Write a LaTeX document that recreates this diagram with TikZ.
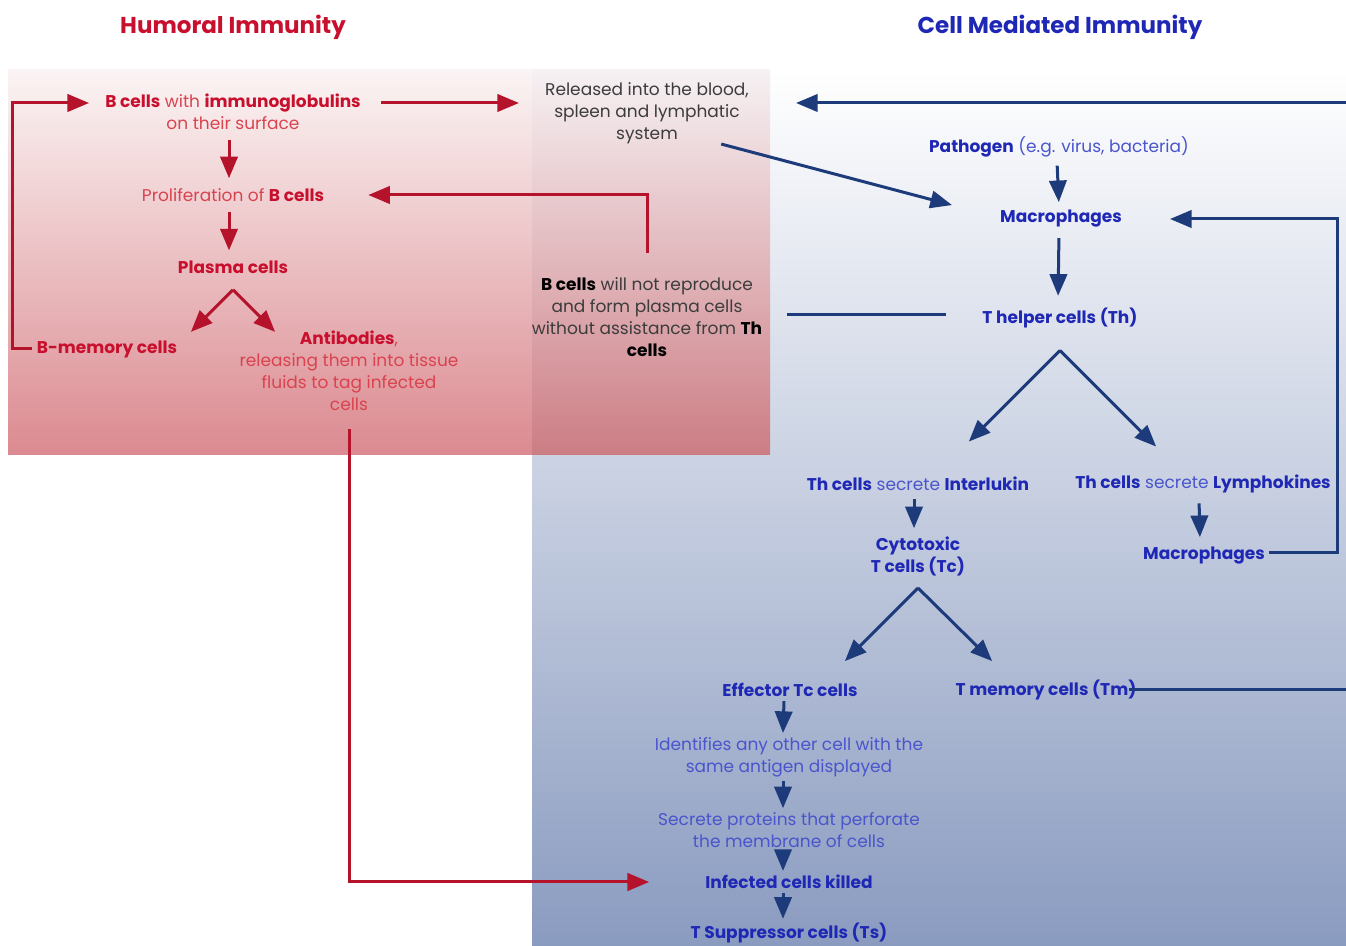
\documentclass[tikz,border=0pt]{standalone}
\usepackage{fontspec}
\setmainfont{Poppins}
\usetikzlibrary{arrows, calc, positioning}

\definecolor{humred}{HTML}{C8102E}
\definecolor{humredlt}{HTML}{D9434F}
\definecolor{arrred}{HTML}{B5122B}
\definecolor{cmiblue}{HTML}{1F28B4}
\definecolor{cmibluelt}{HTML}{4A55CC}
\definecolor{arrblue}{HTML}{1D3B7A}
\definecolor{txtgray}{HTML}{3C3C3C}
\definecolor{bluemid}{HTML}{DCE1EA}
\definecolor{bluebot}{HTML}{8A9BC0}
\definecolor{redtop}{HTML}{FBF4F4}
\definecolor{redmid}{HTML}{EDCBCD}
\definecolor{redbot}{HTML}{DB8A90}
\definecolor{mixtop}{HTML}{F6F1F3}
\definecolor{mixmid}{HTML}{E3C3C6}
\definecolor{mixbot}{HTML}{CC7D84}

\newcommand{\redbf}[1]{{\bfseries\color{humred}#1}}
\newcommand{\bluebf}[1]{{\bfseries\color{cmiblue}#1}}

\begin{document}
\begin{tikzpicture}[>=triangle 45, x=0.5pt, y=-0.5pt,
    redtxt/.style={text=humredlt, align=center, inner sep=2pt, font=\fontsize{8.5}{11}\selectfont},
    bluetxt/.style={text=cmibluelt, align=center, inner sep=2pt, font=\fontsize{8.5}{11}\selectfont},
    graytxt/.style={text=txtgray, align=center, inner sep=2pt, font=\fontsize{8.5}{11}\selectfont},
    heading/.style={font=\fontsize{11.5}{13}\selectfont\bfseries},
    redarr/.style={->, draw=arrred, line width=1.5pt},
    bluearr/.style={->, draw=arrblue, line width=1.5pt},
    blueln/.style={draw=arrblue, line width=1.5pt}]
    \useasboundingbox (0,0) rectangle (1346,946);

    % Hintergrund
    \shade[top color=white, middle color=bluemid, bottom color=bluebot] (532,70) rectangle (1346,946);
    \shade[top color=redtop, middle color=redmid, bottom color=redbot] (8,70) rectangle (532,455);
    \shade[top color=mixtop, middle color=mixmid, bottom color=mixbot] (532,70) rectangle (770,455);

    % Titel
    \node[heading, text=humred] (humtitle) at (233,27) {Humoral Immunity};
    \node[heading, text=cmiblue] (cmititle) at (1060,27) {Cell Mediated Immunity};

    % Humorale Seite
    \node[redtxt] (bimm) at (233,112) {\redbf{B cells} with \redbf{immunoglobulins}\\on their surface};
    \node[redtxt] (prolif) at (233,195) {Proliferation of \redbf{B cells}};
    \node[redtxt] (plasma) at (233,267) {\redbf{Plasma cells}};
    \node[redtxt] (bmem) at (107,349) {\redbf{B-memory cells}};
    \node[redtxt] (antib) at (349,371) {\redbf{Antibodies},\\releasing them into tissue\\fluids to tag infected\\cells};
    \node[graytxt] (released) at (647,113) {Released into the blood,\\spleen and lymphatic\\system};
    \node[graytxt] (bnot) at (647,317) {\textbf{\color{black}B cells} will not reproduce\\and form plasma cells\\without assistance from \textbf{\color{black}Th}\\\textbf{\color{black}cells}};

    % Zellvermittelte Seite
    \node[bluetxt] (pathogen) at (1059,147) {\bluebf{Pathogen} (e.g. virus, bacteria)};
    \node[bluetxt] (macro1) at (1061,219) {\bluebf{Macrophages}};
    \node[bluetxt] (thelper) at (1060,318) {\bluebf{T helper cells (Th)}};
    \node[bluetxt] (thint) at (918,484) {\bluebf{Th cells} secrete \bluebf{Interlukin}};
    \node[bluetxt] (thlym) at (1203,484) {\bluebf{Th cells} secrete \bluebf{Lymphokines}};
    \node[bluetxt] (cyto) at (918,556) {\bluebf{Cytotoxic}\\\bluebf{T cells (Tc)}};
    \node[bluetxt] (macro2) at (1204,556) {\bluebf{Macrophages}};
    \node[bluetxt] (effector) at (790,690) {\bluebf{Effector Tc cells}};
    \node[bluetxt] (tmem) at (1046,690) {\bluebf{T memory cells (Tm)}};
    \node[bluetxt] (ident) at (789,757) {Identifies any other cell with the\\same antigen displayed};
    \node[bluetxt] (secrete) at (789,830) {Secrete proteins that perforate\\the membrane of cells};
    \node[bluetxt] (killed) at (789,882) {\bluebf{Infected cells killed}};
    \node[bluetxt] (tsup) at (789,933) {\bluebf{T Suppressor cells (Ts)}};

    % Hilfspunkte
    \coordinate (bimmL) at ([yshift=4.5pt,xshift=-6pt]bimm.west);
    \coordinate (bimmR) at ([yshift=4.5pt]bimm.east);
    \coordinate (plasmaV) at ([yshift=-6pt]plasma.south);
    \coordinate (thV) at ([yshift=-9pt]thelper.south);
    \coordinate (tcV) at ([yshift=-4pt]cyto.south);
    \coordinate (edgeTop) at (1346,103);
    \coordinate (edgeMid) at (1346,689);

    % rote Pfeile
    \draw[redarr] (bmem.west) -- ++(-20,0) |- (bimmL);
    \draw[redarr, shorten <=8pt, shorten >=11pt] (bimmR) -- (bimmR -| released.west);
    \draw[redarr, shorten <=3pt, shorten >=3pt] ([xshift=-2pt]bimm.south) -- ([xshift=-2pt]prolif.north);
    \draw[redarr, shorten <=3pt, shorten >=3pt] ([xshift=-2pt]prolif.south) -- ([xshift=-2pt]plasma.north);
    \draw[redarr] (plasmaV) -- ++(-42,42);
    \draw[redarr] (plasmaV) -- ++(42,42);
    \draw[redarr, shorten >=20pt] ([yshift=10pt]bnot.north) |- (prolif.east);
    \draw[redarr, shorten <=7pt, shorten >=26pt] (antib.south) |- (killed.west);

    % blaue Pfeile
    \draw[bluearr, shorten >=21.5pt] (edgeTop) -- (edgeTop -| released.east);
    \draw[bluearr] ([xshift=-16pt,yshift=2pt]released.south east) -- ([xshift=-22pt,yshift=7pt]macro1.west);
    \draw[bluearr, shorten <=2pt, shorten >=2pt] ([xshift=-1pt]pathogen.south) -- ([xshift=-1pt]macro1.north);
    \draw[bluearr, shorten <=3pt, shorten >=4pt] ([xshift=-1pt]macro1.south) -- ([xshift=-1pt]thelper.north);
    \draw[blueln, shorten <=16pt, shorten >=10pt] ([yshift=1.5pt]thelper.west) -- ([yshift=1.5pt]thelper.west -| bnot.east);
    \draw[bluearr] (thV) -- ++(-91,91);
    \draw[bluearr] (thV) -- ++(96,96);
    \draw[bluearr, shorten <=2pt, shorten >=2pt] ([xshift=-2pt]thint.south) -- ([xshift=-2pt]cyto.north);
    \draw[bluearr, shorten <=3pt, shorten >=3pt] ([xshift=-2pt]thlym.south) -- ([xshift=-2pt]macro2.north);
    \draw[bluearr, shorten >=22pt] ([yshift=1.5pt]macro2.east) -- ++(68,0) |- (macro1.east);
    \draw[bluearr] (tcV) -- ++(-73,73);
    \draw[bluearr] (tcV) -- ++(74,73);
    \draw[blueln, shorten <=-6pt] (tmem.east) -- (tmem.east -| edgeMid);
    \draw[bluearr] ([xshift=-3pt]effector.south) -- ([xshift=-3pt]ident.north);
    \draw[bluearr] ([xshift=-3pt]ident.south) -- ([xshift=-3pt]secrete.north);
    \draw[bluearr] ([xshift=-3pt]secrete.south) -- ([xshift=-3pt]killed.north);
    \draw[bluearr] ([xshift=-3pt]killed.south) -- ([xshift=-3pt]tsup.north);
\end{tikzpicture}
\end{document}
